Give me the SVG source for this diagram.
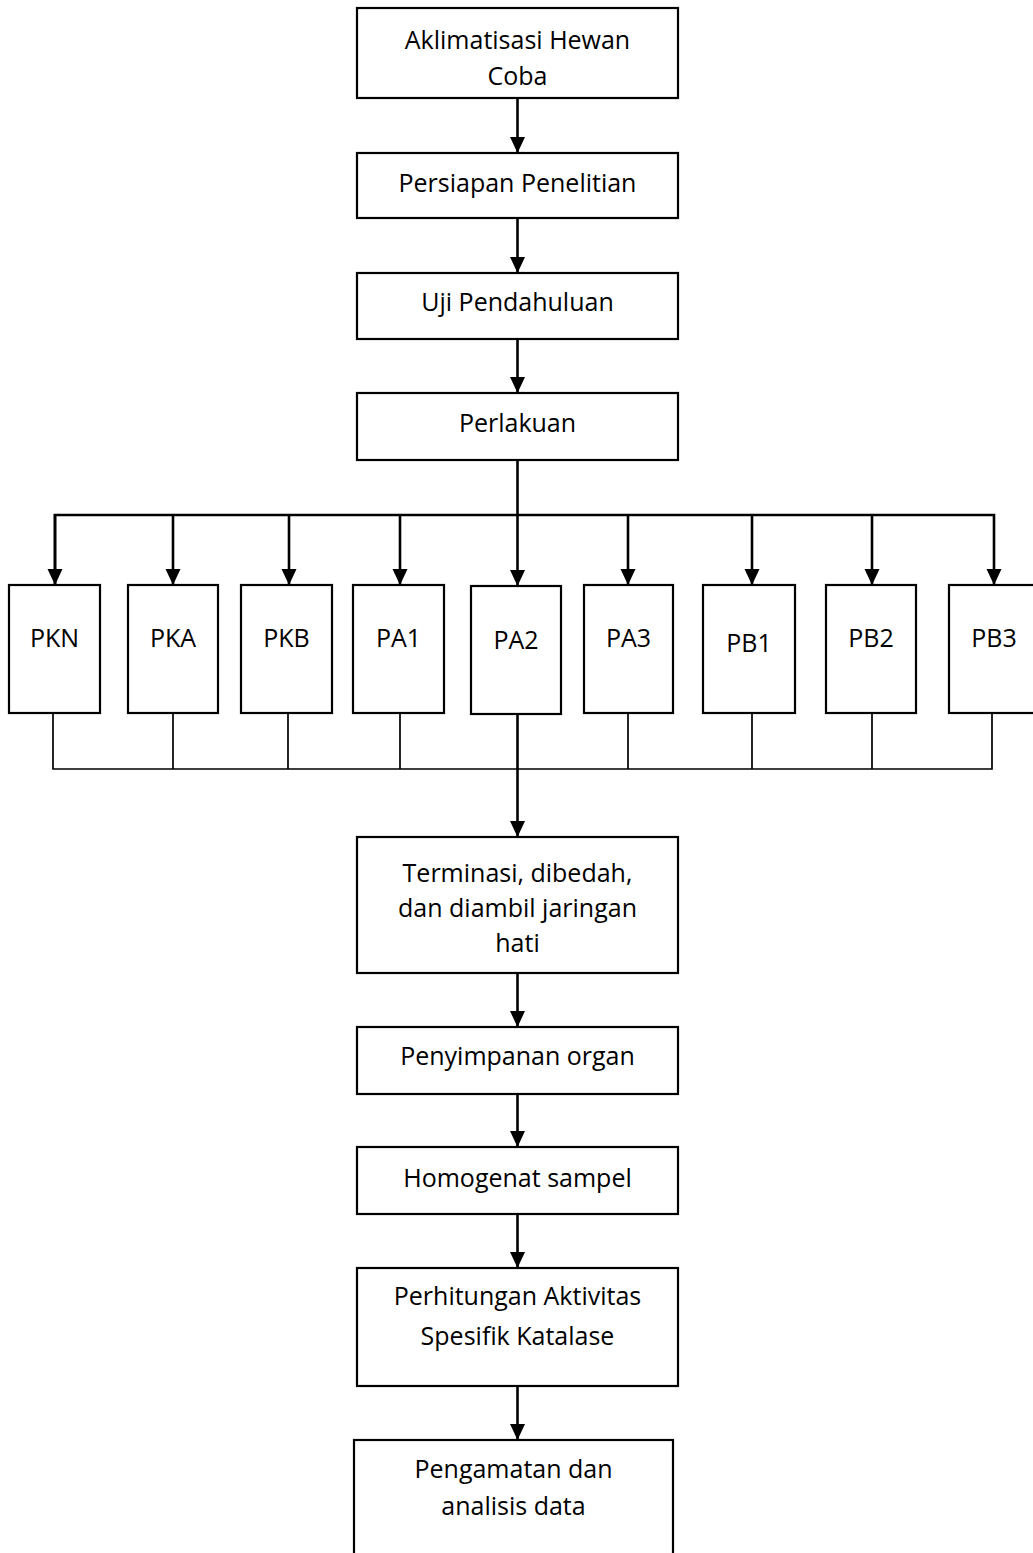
<svg xmlns="http://www.w3.org/2000/svg" width="1033" height="1553" viewBox="0 0 1033 1553">
<defs>
<style>
.box{fill:#fff;stroke:#000;stroke-width:2.2}
.t{font-family:"Open Sans","Liberation Sans",sans-serif;font-size:25px;fill:#000;text-anchor:middle}
.thick{fill:none;stroke:#000;stroke-width:2.6}
.thin{fill:none;stroke:#000;stroke-width:1.7}
</style>
<marker id="arr" markerUnits="userSpaceOnUse" markerWidth="17" markerHeight="16" refX="16" refY="7.5" orient="auto">
<path d="M0,0 L16,7.5 L0,15 z" fill="#000"/>
</marker>
</defs>
<rect width="1033" height="1553" fill="#fff"/>
<g id="connectors">
<line class="thick" x1="517.5" y1="98" x2="517.5" y2="153" marker-end="url(#arr)"/>
<line class="thick" x1="517.5" y1="218" x2="517.5" y2="273" marker-end="url(#arr)"/>
<line class="thick" x1="517.5" y1="339" x2="517.5" y2="393" marker-end="url(#arr)"/>
<line class="thick" x1="517.5" y1="460" x2="517.5" y2="586" marker-end="url(#arr)"/>
<polyline class="thick" points="55,585 55,515 994,515 994,585" marker-end="url(#arr)"/>
<line class="thick" x1="55" y1="514" x2="55" y2="585" marker-end="url(#arr)"/>
<line class="thick" x1="173" y1="515" x2="173" y2="585" marker-end="url(#arr)"/>
<line class="thick" x1="289" y1="515" x2="289" y2="585" marker-end="url(#arr)"/>
<line class="thick" x1="400" y1="515" x2="400" y2="585" marker-end="url(#arr)"/>
<line class="thick" x1="628" y1="515" x2="628" y2="585" marker-end="url(#arr)"/>
<line class="thick" x1="752" y1="515" x2="752" y2="585" marker-end="url(#arr)"/>
<line class="thick" x1="872" y1="515" x2="872" y2="585" marker-end="url(#arr)"/>
<path class="thin" d="M53,714 V769 H992 V714 M173,714 V769 M288,714 V769 M400,714 V769 M628,714 V769 M752,714 V769 M872,714 V769"/>
<line class="thick" x1="517.5" y1="714" x2="517.5" y2="837" marker-end="url(#arr)"/>
<line class="thick" x1="517.5" y1="973" x2="517.5" y2="1027" marker-end="url(#arr)"/>
<line class="thick" x1="517.5" y1="1094" x2="517.5" y2="1147" marker-end="url(#arr)"/>
<line class="thick" x1="517.5" y1="1214" x2="517.5" y2="1268" marker-end="url(#arr)"/>
<line class="thick" x1="517.5" y1="1386" x2="517.5" y2="1440" marker-end="url(#arr)"/>
</g>
<g id="n-aklimatisasi"><rect class="box" x="357" y="8" width="321" height="90"/><text class="t" x="517.5" y="49">Aklimatisasi Hewan</text><text class="t" x="517.5" y="85">Coba</text></g>
<g id="n-persiapan"><rect class="box" x="357" y="153" width="321" height="65"/><text class="t" x="517.5" y="192">Persiapan Penelitian</text></g>
<g id="n-uji"><rect class="box" x="357" y="273" width="321" height="66"/><text class="t" x="517.5" y="311">Uji Pendahuluan</text></g>
<g id="n-perlakuan"><rect class="box" x="357" y="393" width="321" height="67"/><text class="t" x="517.5" y="432">Perlakuan</text></g>
<g id="n-pkn"><rect class="box" x="9" y="585" width="91" height="128"/><text class="t" x="54.5" y="647">PKN</text></g>
<g id="n-pka"><rect class="box" x="128" y="585" width="90" height="128"/><text class="t" x="173" y="647">PKA</text></g>
<g id="n-pkb"><rect class="box" x="241" y="585" width="91" height="128"/><text class="t" x="286.5" y="647">PKB</text></g>
<g id="n-pa1"><rect class="box" x="353" y="585" width="91" height="128"/><text class="t" x="398.5" y="647">PA1</text></g>
<g id="n-pa2"><rect class="box" x="471" y="586" width="90" height="128"/><text class="t" x="516" y="649">PA2</text></g>
<g id="n-pa3"><rect class="box" x="584" y="585" width="89" height="128"/><text class="t" x="628.5" y="647">PA3</text></g>
<g id="n-pb1"><rect class="box" x="703" y="585" width="92" height="128"/><text class="t" x="749" y="652">PB1</text></g>
<g id="n-pb2"><rect class="box" x="826" y="585" width="90" height="128"/><text class="t" x="871" y="647">PB2</text></g>
<g id="n-pb3"><rect class="box" x="949" y="585" width="92" height="128"/><text class="t" x="994" y="647">PB3</text></g>
<g id="n-terminasi"><rect class="box" x="357" y="837" width="321" height="136"/><text class="t" x="517.5" y="882">Terminasi, dibedah,</text><text class="t" x="517.5" y="917">dan diambil jaringan</text><text class="t" x="517.5" y="952">hati</text></g>
<g id="n-penyimpanan"><rect class="box" x="357" y="1027" width="321" height="67"/><text class="t" x="517.5" y="1065">Penyimpanan organ</text></g>
<g id="n-homogenat"><rect class="box" x="357" y="1147" width="321" height="67"/><text class="t" x="517.5" y="1187">Homogenat sampel</text></g>
<g id="n-perhitungan"><rect class="box" x="357" y="1268" width="321" height="118"/><text class="t" x="517.5" y="1305">Perhitungan Aktivitas</text><text class="t" x="517.5" y="1345">Spesifik Katalase</text></g>
<g id="n-pengamatan"><rect class="box" x="354" y="1440" width="319" height="130"/><text class="t" x="513.5" y="1478">Pengamatan dan</text><text class="t" x="513.5" y="1515">analisis data</text></g>
</svg>
